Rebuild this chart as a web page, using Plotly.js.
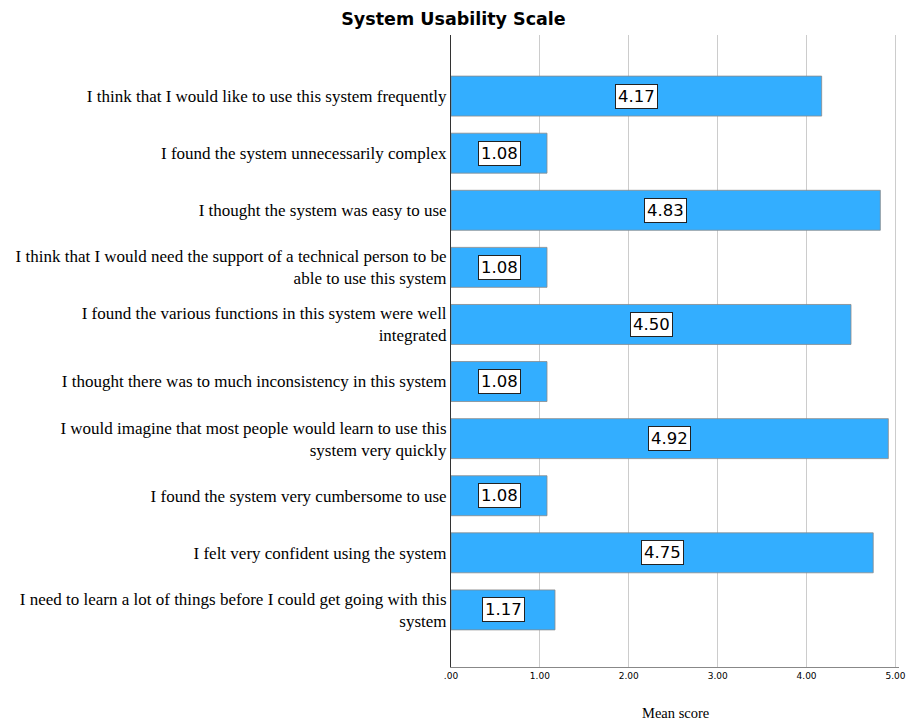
<!DOCTYPE html>
<html>
<head>
<meta charset="utf-8">
<script src="https://cdn.plot.ly/plotly-3.0.1.min.js"></script>
<style>html,body{margin:0;padding:0;background:#fff;}#chart{width:907px;height:722px;}</style>
</head>
<body>
<div id="chart"></div>
<script>
const categories = [
  "I think that I would like to use this system frequently",
  "I found the system unnecessarily complex",
  "I thought the system was easy to use",
  "I think that I would need the support of a technical person to be<br>able to use this system",
  "I found the various functions in this system were well<br>integrated",
  "I thought there was to much inconsistency in this system",
  "I would imagine that most people would learn to use this<br>system very quickly",
  "I found the system very cumbersome to use",
  "I felt very confident using the system",
  "I need to learn a lot of things before I could get going with this<br>system"
];
const meanScores = [4.17, 1.08, 4.83, 1.08, 4.50, 1.08, 4.92, 1.08, 4.75, 1.17];
const xTickVals = [0, 1, 2, 3, 4, 5];
const xTickText = [".00", "1.00", "2.00", "3.00", "4.00", "5.00"];

const trace = {
  type: 'bar',
  orientation: 'h',
  y: categories,
  x: meanScores,
  marker: {color: '#33AEFF', line: {color: '#8a8a8a', width: 0.8}},
  hoverinfo: 'x+y'
};

const annotations = meanScores.map((v, i) => ({
  x: v / 2,
  y: categories[i],
  xref: 'x', yref: 'y',
  text: v.toFixed(2),
  showarrow: false,
  bgcolor: '#ffffff',
  bordercolor: '#222222',
  borderwidth: 1,
  borderpad: 2,
  font: {family: 'DejaVu Sans', size: 16.5, color: '#000'}
}));

annotations.push({
  text: 'Mean score', xref: 'paper', yref: 'paper', x: 0.5, y: -0.073,
  xanchor: 'center', yanchor: 'middle', showarrow: false,
  font: {family: 'Liberation Serif', size: 14.5, color: '#000'}
});

const layout = {
  width: 907, height: 722,
  margin: {l: 451, r: 8, t: 35, b: 55},
  paper_bgcolor: '#fff', plot_bgcolor: '#fff',
  bargap: 0.3,
  showlegend: false,
  title: {text: '<b>System Usability Scale</b>', x: 0.5, xref: 'container', xanchor: 'center', y: 0.974, yref: 'container', yanchor: 'middle',
          font: {family: 'DejaVu Sans', size: 17.5, color: '#000'}},
  xaxis: {
    range: [0, 5.04],
    tickvals: xTickVals, ticktext: xTickText,
    tickfont: {family: 'DejaVu Sans', size: 9, color: '#000'},
    showgrid: true, gridcolor: '#cccccc', gridwidth: 1,
    zeroline: false,
    showline: true, linecolor: '#888888', linewidth: 1,
    ticks: '', ticklen: 0
  },
  yaxis: {
    range: [10.0, -1.07],
    type: 'category',
    tickfont: {family: 'Liberation Serif', size: 17, color: '#000'},
    showgrid: false, zeroline: false,
    showline: true, linecolor: '#333333', linewidth: 1,
    ticks: '', ticklen: 0,
    automargin: false
  },
  annotations: annotations
};

Plotly.newPlot('chart', [trace], layout, {displayModeBar: false, staticPlot: true});
</script>
</body>
</html>
